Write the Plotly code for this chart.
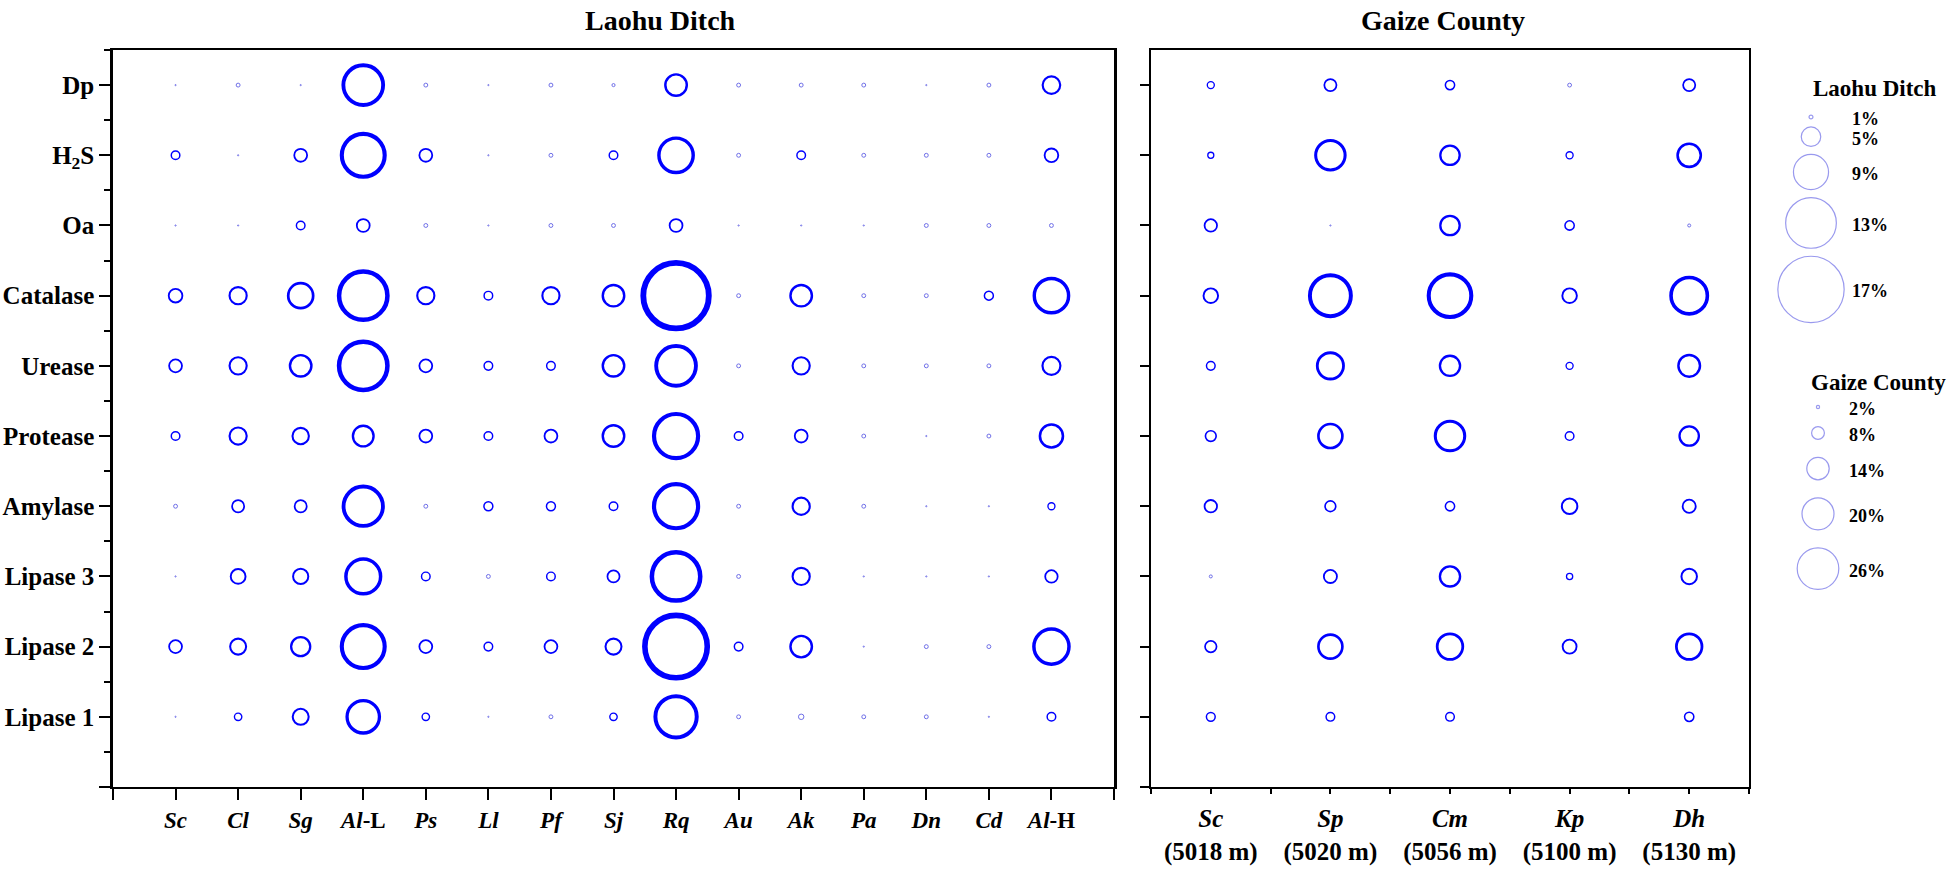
import plotly.graph_objects as go

W, H = 1950, 869

# rows, bottom to top
ENZYMES = ['Lipase 1', 'Lipase 2', 'Lipase 3', 'Amylase', 'Protease',
           'Urease', 'Catalase', 'Oa', 'H<sub>2</sub>S', 'Dp']

LAOHU_SPECIES = ['<i>Sc</i>', '<i>Cl</i>', '<i>Sg</i>', '<i>Al</i>-L', '<i>Ps</i>',
                 '<i>Ll</i>', '<i>Pf</i>', '<i>Sj</i>', '<i>Rq</i>', '<i>Au</i>',
                 '<i>Ak</i>', '<i>Pa</i>', '<i>Dn</i>', '<i>Cd</i>', '<i>Al</i>-H']
GAIZE_SPECIES = ['<i>Sc</i>', '<i>Sp</i>', '<i>Cm</i>', '<i>Kp</i>', '<i>Dh</i>']
GAIZE_ALT = ['(5018 m)', '(5020 m)', '(5056 m)', '(5100 m)', '(5130 m)']

# Laohu Ditch, % per species (Sc ... Al-H)
laohu_lipase1 = [0.2, 1.9, 4.1, 8.3, 1.9, 0.2, 1, 1.9, 10.6, 1, 1.4, 1, 1, 0.2, 2.2]
laohu_lipase2 = [3.3, 4.1, 4.9, 11, 3.3, 2.2, 3.3, 4.1, 16, 2.2, 5.5, 0.2, 1, 1, 9]
laohu_lipase3 = [0.2, 3.8, 3.9, 8.9, 2.2, 1, 2.2, 3.1, 12.4, 1, 4.4, 0.2, 0.2, 0.2, 3.2]
laohu_amylase = [1, 3.1, 3.1, 10.1, 1, 2.3, 2.3, 2.2, 11.3, 1, 4.4, 1, 0.2, 0.2, 1.8]
laohu_protease = [2.2, 4.4, 4.2, 5.3, 3.3, 2.2, 3.3, 5.5, 11.3, 2.2, 3.3, 1, 0.2, 1, 5.9]
laohu_urease = [3.3, 4.4, 5.5, 12.4, 3.3, 2.2, 2.2, 5.5, 10.2, 1, 4.4, 1, 1, 1, 4.6]
laohu_catalase = [3.5, 4.4, 6.4, 12.4, 4.4, 2.2, 4.4, 5.5, 16.8, 1, 5.5, 1, 1, 2.3, 8.8]
laohu_oa = [0.2, 0.2, 2.2, 3.3, 1, 0.2, 1, 1, 3.3, 0.2, 0.2, 0.2, 1, 1, 1]
laohu_h2s = [2.2, 0.2, 3.3, 11, 3.3, 0.2, 1, 2.2, 8.8, 1, 2.2, 1, 1, 1, 3.5]
laohu_dp = [0.2, 1, 0.2, 10.2, 1, 0.2, 1, 0.8, 5.5, 1, 1, 1, 0.2, 1, 4.5]

# Gaize County, % per species (Sc, Sp, Cm, Kp, Dh)
gaize_lipase1 = [5.5, 5.4, 5.4, 0, 5.8]
gaize_lipase2 = [7.2, 15, 16, 8.7, 16]
gaize_lipase3 = [1.9, 8.2, 12.6, 3.9, 9.7]
gaize_amylase = [7.8, 6.7, 5.8, 9.7, 8.2]
gaize_protease = [6.7, 15, 18.4, 5.4, 12.1]
gaize_urease = [5.4, 16.4, 12.6, 4.4, 13.5]
gaize_catalase = [9.1, 25.6, 26.6, 9.1, 22.7]
gaize_oa = [7.8, 0.5, 12.1, 5.8, 1.9]
gaize_h2s = [3.8, 18.4, 12.1, 4.4, 14.5]
gaize_dp = [4.4, 7.6, 5.8, 2.4, 7.6]

LAOHU_LEGEND = [1, 5, 9, 13, 17]
GAIZE_LEGEND = [2, 8, 14, 20, 26]

laohu_rows = [laohu_lipase1, laohu_lipase2, laohu_lipase3, laohu_amylase, laohu_protease,
              laohu_urease, laohu_catalase, laohu_oa, laohu_h2s, laohu_dp]
gaize_rows = [gaize_lipase1, gaize_lipase2, gaize_lipase3, gaize_amylase, gaize_protease,
              gaize_urease, gaize_catalase, gaize_oa, gaize_h2s, gaize_dp]

LAOHU_PX = 3.9   # marker diameter px per %
GAIZE_PX = 1.6
FONT = 'Liberation Serif'
BLUE = '#0000ff'
PALE = '#6f6fe8'


def fx(p):
    return p / W


def fy(p):
    return 1 - p / H


def bubbles(rows, scale, xa, ya):
    xs, ys, sizes = [], [], []
    for j, row in enumerate(rows):
        for i, v in enumerate(row):
            if v <= 0:
                continue
            xs.append(i + 1)
            ys.append(j + 1)
            sizes.append(max(v * scale, 1.2))
    # thicker rings for bigger bubbles, faint hairlines for the tiny ones
    widths = [0.8 + s / 13 if s >= 6 else 1.0 for s in sizes]
    colors = [BLUE if s >= 6 else PALE for s in sizes]
    return go.Scatter(x=xs, y=ys, mode='markers', xaxis=xa, yaxis=ya,
                      hoverinfo='skip', showlegend=False, cliponaxis=False,
                      marker=dict(symbol='circle', size=sizes, sizemode='diameter',
                                  color='rgba(0,0,0,0)', opacity=1,
                                  line=dict(width=widths, color=colors)))


def stack(start, sizes, gap):
    pos = [start]
    for a, b in zip(sizes[:-1], sizes[1:]):
        pos.append(pos[-1] + (a + b) / 2 + gap)
    return pos


fig = go.Figure()
fig.add_trace(bubbles(laohu_rows, LAOHU_PX, 'x', 'y'))
fig.add_trace(bubbles(gaize_rows, GAIZE_PX, 'x2', 'y2'))

# size legends, drawn on a pixel-scaled overlay axis
l_sizes = [v * LAOHU_PX for v in LAOHU_LEGEND]
g_sizes = [v * GAIZE_PX for v in GAIZE_LEGEND]
l_pos = stack(117, l_sizes, 8)
g_pos = stack(407, g_sizes, 18)
for cx, sizes, pos in [(1811, l_sizes, l_pos), (1818, g_sizes, g_pos)]:
    fig.add_trace(go.Scatter(x=[cx] * len(sizes), y=pos, mode='markers', xaxis='x3', yaxis='y3',
                             hoverinfo='skip', showlegend=False, cliponaxis=False,
                             marker=dict(size=sizes, color='rgba(0,0,0,0)',
                                         line=dict(width=1.2, color=PALE))))

ann = []
for tx, vals, pos in [(1850, LAOHU_LEGEND, l_pos), (1847, GAIZE_LEGEND, g_pos)]:
    for v, p in zip(vals, pos):
        ann.append(dict(x=tx, y=p + 2, xref='x3', yref='y3', text=f'{v}%', showarrow=False,
                        xanchor='left', yanchor='middle',
                        font=dict(family=FONT, size=18, color='black', weight='bold')))
ann.append(dict(x=1939, y=88, xref='x3', yref='y3', text='Laohu Ditch', showarrow=False,
                xanchor='right',
                font=dict(family=FONT, size=23, color='black', weight='bold')))
ann.append(dict(x=1948, y=382, xref='x3', yref='y3', text='Gaize County', showarrow=False,
                xanchor='right',
                font=dict(family=FONT, size=23, color='black', weight='bold')))
ann.append(dict(x=660, y=20, xref='x3', yref='y3', text='Laohu Ditch', showarrow=False,
                font=dict(family=FONT, size=28, color='black', weight='bold')))
ann.append(dict(x=1443, y=20, xref='x3', yref='y3', text='Gaize County', showarrow=False,
                font=dict(family=FONT, size=28, color='black', weight='bold')))

tickfont = dict(family=FONT, size=23, color='black', weight='bold')
axis_common = dict(showline=True, linecolor='black', linewidth=2, mirror=True,
                   showgrid=False, zeroline=False, fixedrange=True, ticks='outside',
                   tickcolor='black', tickwidth=2, automargin=False)

fig.update_layout(
    width=W, height=H, margin=dict(l=0, r=0, t=0, b=0),
    paper_bgcolor='white', plot_bgcolor='rgba(0,0,0,0)',
    annotations=ann,
    xaxis=dict(axis_common, domain=[fx(113), fx(1114)], range=[0, 16], anchor='y',
               tickvals=list(range(0, 17)),
               ticktext=[''] + LAOHU_SPECIES + [''],
               ticklen=11, tickfont=tickfont),
    yaxis=dict(axis_common, domain=[fy(787), fy(50)], range=[0, 10.5], anchor='x',
               linewidth=2.5,
               tickvals=list(range(0, 11)), ticktext=[''] + ENZYMES,
               ticklen=11, tickfont=dict(tickfont, size=25),
               minor=dict(ticks='outside', dtick=0.5, tick0=0, ticklen=6,
                          tickcolor='black', tickwidth=2)),
    xaxis2=dict(axis_common, domain=[fx(1151), fx(1749)], range=[0.5, 5.5], anchor='y2',
                tickvals=list(range(1, 6)),
                ticktext=[f'{s}<br>{a}' for s, a in zip(GAIZE_SPECIES, GAIZE_ALT)],
                ticklen=5, tickfont=dict(tickfont, size=25), ticklabelstandoff=3,
                minor=dict(ticks='outside', dtick=0.5, tick0=0.5, ticklen=5,
                           tickcolor='black', tickwidth=2)),
    yaxis2=dict(axis_common, domain=[fy(787), fy(50)], range=[0, 10.5], anchor='x2',
                tickvals=list(range(0, 11)), showticklabels=False, ticklen=9),
    xaxis3=dict(domain=[0, 1], range=[0, W], visible=False, fixedrange=True, anchor='y3'),
    yaxis3=dict(domain=[0, 1], range=[H, 0], visible=False, fixedrange=True, anchor='x3'),
)

# the page's default body margin would push the fixed-size figure 8px off
fig.write_html('out.html', config={'displayModeBar': False},
               post_script="document.body.style.margin = '0px';")
